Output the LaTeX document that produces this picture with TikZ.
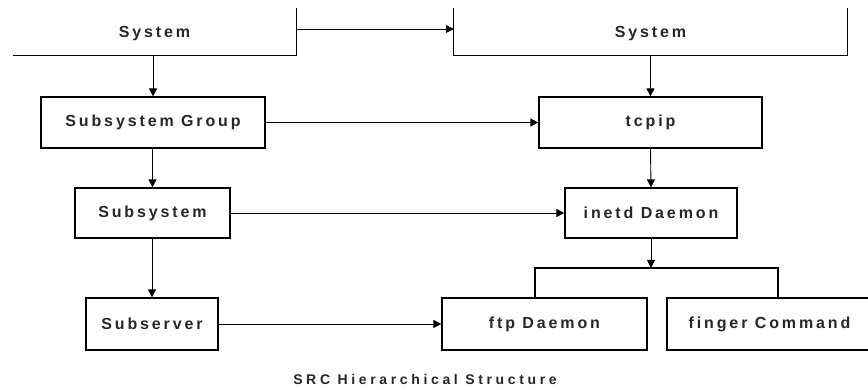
\documentclass[tikz,border=0pt]{standalone}
\usepackage{fontspec}
\setmainfont{Liberation Sans}[LetterSpace=18]
\newfontfamily\capfont{Liberation Sans}[LetterSpace=26]
\usetikzlibrary{arrows.meta}

\tikzset{
  box/.style={draw,line width=1.3pt,inner sep=0pt,font=\bfseries\fontsize{16}{18}\selectfont,text=black!85},
  frame/.style={inner sep=0pt},
  lbl/.style={font=\bfseries\fontsize{16}{18}\selectfont,text=black!85},
  conn/.style={line width=0.9pt,-{Triangle[length=8pt,width=8pt]}},
  edge/.style={line width=1.3pt}
}

\begin{document}
\begin{tikzpicture}[x=1pt,y=-1pt]
  \useasboundingbox (0,0) rectangle (868,390);

  % the two System boxes run off the top of the page
  \node[frame,minimum width=283pt,minimum height=47pt] (sysL) at (154.5,31.5) {};
  \node[frame,minimum width=393pt,minimum height=47pt] (sysR) at (650.5,31.5) {};
  \draw[edge] (sysL.south west) -- (sysL.south east) -- (sysL.north east);
  \draw[edge] (sysR.north west) -- (sysR.south west) -- (sysR.south east) -- (sysR.north east);
  \node[lbl] (sysLtxt) at (154.5,34) {System};
  \node[lbl] (sysRtxt) at (650.5,34) {System};

  \node[box,minimum width=224pt,minimum height=51pt] (grp) at (153,122.5) {Subsystem Group};
  \node[box,minimum width=223pt,minimum height=51pt] (tcp) at (650.5,122.5) {tcpip};
  \node[box,minimum width=155pt,minimum height=50pt] (subsys) at (152.5,213) {Subsystem};
  \node[box,minimum width=172pt,minimum height=50pt] (inetd) at (651,213) {inetd Daemon};
  \node[box,minimum width=132pt,minimum height=52pt] (subsrv) at (152,324) {Subserver};
  \node[box,minimum width=205pt,minimum height=52pt] (ftp) at (544.5,324) {ftp Daemon};
  \node[box,minimum width=205pt,minimum height=52pt] (finger) at (769.5,324) {finger Command};

  \coordinate (fork) at (651,268);
  \coordinate (forkL) at (535,268);
  \coordinate (forkR) at (778,268);

  \draw[conn] (sysL.east |- 0,29) -- (sysR.west |- 0,29);
  \draw[conn] (grp.north |- sysL.south) -- (grp.north);
  \draw[conn] (tcp.north |- sysR.south) -- (tcp.north);
  \draw[conn] (grp.east) -- (tcp.west);
  \draw[conn] (subsys.north |- grp.south) -- (subsys.north);
  \draw[conn] (tcp.south) -- (inetd.north);
  \draw[conn] (subsys.east) -- (inetd.west);
  \draw[conn] (subsrv.north |- subsys.south) -- (subsrv.north);
  \draw[conn] (subsrv.east) -- (ftp.west);
  \draw[conn] (inetd.south) -- (fork);
  \draw[edge] (ftp.north -| forkL) -- (forkL) -- (forkR) -- (finger.north -| forkR);

  \node[lbl,font=\capfont\bfseries\fontsize{14}{16}\selectfont] (title) at (425,379) {SRC Hierarchical Structure};
\end{tikzpicture}
\end{document}
